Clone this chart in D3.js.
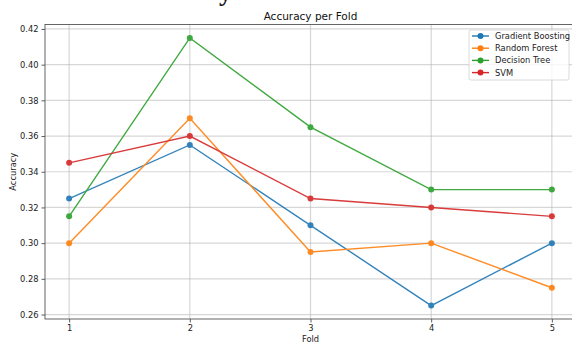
<!DOCTYPE html>
<html>
<head>
<meta charset="utf-8">
<script src="https://cdn.jsdelivr.net/npm/d3@7"></script>
<style>
  body { margin: 0; background: #fff; }
  svg { display: block; font-family: "DejaVu Sans", sans-serif; }
</style>
</head>
<body>
<div id="chart"></div>
<script>
// data
const folds = [1, 2, 3, 4, 5];
const gradientBoosting = [0.325, 0.355, 0.31, 0.265, 0.30];
const randomForest = [0.30, 0.37, 0.295, 0.30, 0.275];
const decisionTree = [0.315, 0.415, 0.365, 0.33, 0.33];
const svmScores = [0.345, 0.36, 0.325, 0.32, 0.315];
const yTicks = [0.26, 0.28, 0.30, 0.32, 0.34, 0.36, 0.38, 0.40, 0.42];

const seriesList = [
    { name: 'Gradient Boosting', values: gradientBoosting, color: '#1f77b4' },
    { name: 'Random Forest', values: randomForest, color: '#ff7f0e' },
    { name: 'Decision Tree', values: decisionTree, color: '#2ca02c' },
    { name: 'SVM', values: svmScores, color: '#d62728' }
];

const width = 572, height = 343;
const plotLeft = 45, plotRight = 576, plotTop = 24.5, plotBottom = 319;

const svg = d3.select('#chart').append('svg')
    .attr('width', width)
    .attr('height', height);

// stray glyph cut off at the top of the picture
svg.append('text')
    .attr('x', 219).attr('y', 0.5)
    .attr('font-family', '"Liberation Serif", serif')
    .attr('font-size', 26)
    .attr('font-weight', 'bold')
    .attr('fill', '#111')
    .text('y');

const x = d3.scaleLinear().domain([0.8, 5.2]).range([plotLeft, plotRight]);
const y = d3.scaleLinear().domain([0.2575, 0.4225]).range([plotBottom, plotTop]);

// grid
const grid = svg.append('g');
grid.selectAll('line.gx')
    .data(folds)
    .enter().append('line')
    .attr('x1', d => x(d)).attr('x2', d => x(d))
    .attr('y1', plotTop).attr('y2', plotBottom)
    .attr('stroke', '#b0b0b0').attr('stroke-opacity', 0.5).attr('stroke-width', 1.2);
grid.selectAll('line.gy')
    .data(yTicks)
    .enter().append('line')
    .attr('x1', plotLeft).attr('x2', plotRight)
    .attr('y1', d => y(d)).attr('y2', d => y(d))
    .attr('stroke', '#b0b0b0').attr('stroke-opacity', 0.5).attr('stroke-width', 1.2);

// axes
const xAxis = svg.append('g')
    .attr('transform', `translate(0,${plotBottom})`)
    .call(d3.axisBottom(x).tickValues(folds).tickFormat(d3.format('d')).tickSize(3.5).tickPadding(3));
const yAxis = svg.append('g')
    .attr('transform', `translate(${plotLeft},0)`)
    .call(d3.axisLeft(y).tickValues(yTicks).tickFormat(d3.format('.2f')).tickSize(3.5).tickPadding(3));

[xAxis, yAxis].forEach(ax => {
    ax.select('.domain').remove();
    ax.selectAll('line').attr('stroke', '#333').attr('stroke-width', 0.8);
    ax.selectAll('text')
        .attr('fill', '#222')
        .attr('font-size', 8.3)
        .attr('font-family', '"DejaVu Sans", sans-serif');
});

// spines
svg.append('rect')
    .attr('x', plotLeft).attr('y', plotTop)
    .attr('width', plotRight - plotLeft).attr('height', plotBottom - plotTop)
    .attr('fill', 'none').attr('stroke', '#555').attr('stroke-width', 0.9);

// lines + markers
const line = d3.line()
    .x((d, i) => x(folds[i]))
    .y(d => y(d));

const marks = svg.append('g').attr('opacity', 0.9);
seriesList.forEach(s => {
    marks.append('path')
        .datum(s.values)
        .attr('d', line)
        .attr('fill', 'none')
        .attr('stroke', s.color)
        .attr('stroke-width', 1.4);
    marks.selectAll(null)
        .data(s.values)
        .enter().append('circle')
        .attr('cx', (d, i) => x(folds[i]))
        .attr('cy', d => y(d))
        .attr('r', 3)
        .attr('fill', s.color);
});

// titles
svg.append('text')
    .attr('x', (plotLeft + plotRight) / 2).attr('y', 19.5)
    .attr('text-anchor', 'middle')
    .attr('font-size', 10.5)
    .attr('fill', '#111')
    .text('Accuracy per Fold');

svg.append('text')
    .attr('x', (plotLeft + plotRight) / 2).attr('y', 342)
    .attr('text-anchor', 'middle')
    .attr('font-size', 8.3)
    .attr('fill', '#222')
    .text('Fold');

svg.append('text')
    .attr('transform', `translate(16,${(plotTop + plotBottom) / 2}) rotate(-90)`)
    .attr('text-anchor', 'middle')
    .attr('font-size', 8.3)
    .attr('fill', '#222')
    .text('Accuracy');

// legend
const legend = svg.append('g');
legend.append('rect')
    .attr('x', 469).attr('y', 30)
    .attr('width', 100).attr('height', 50)
    .attr('rx', 2)
    .attr('fill', '#fff').attr('fill-opacity', 0.8)
    .attr('stroke', '#d0d0d0').attr('stroke-width', 0.8);

const items = legend.selectAll('g.item')
    .data(seriesList)
    .enter().append('g')
    .attr('transform', (d, i) => `translate(0,${36 + i * 12.2})`);
items.append('line')
    .attr('x1', 472).attr('x2', 489)
    .attr('stroke', d => d.color).attr('stroke-width', 1.4);
items.append('circle')
    .attr('cx', 480.5).attr('r', 3)
    .attr('fill', d => d.color);
items.append('text')
    .attr('x', 495).attr('dy', '0.35em')
    .attr('font-size', 8.3)
    .attr('fill', '#222')
    .text(d => d.name);
</script>
</body>
</html>
